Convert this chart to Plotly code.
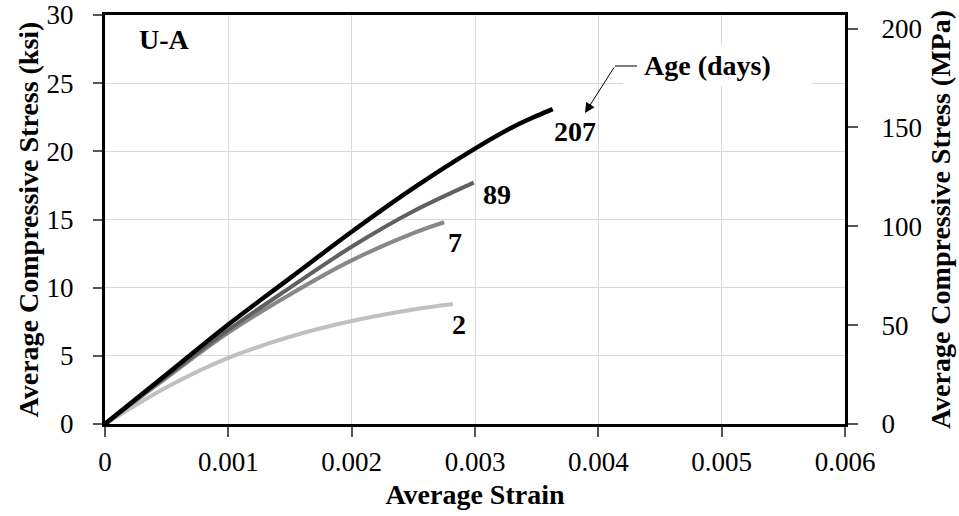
import plotly.graph_objects as go

# ---- data ----
strain_207 = [0, 0.0005, 0.001, 0.0015, 0.002, 0.0025, 0.003, 0.0033, 0.0035, 0.00363]
stress_207 = [0, 3.65, 7.3, 10.7, 14.1, 17.3, 20.2, 21.75, 22.6, 23.1]

strain_89 = [0, 0.0005, 0.001, 0.0015, 0.002, 0.0025, 0.00299]
stress_89 = [0, 3.5, 6.9, 10.0, 13.0, 15.6, 17.7]

strain_7 = [0, 0.0005, 0.001, 0.0015, 0.002, 0.0025, 0.00275]
stress_7 = [0, 3.4, 6.7, 9.5, 12.0, 14.0, 14.8]

strain_2 = [0, 0.0005, 0.001, 0.0015, 0.002, 0.0025, 0.00282]
stress_2 = [0, 2.7, 4.85, 6.4, 7.55, 8.4, 8.8]

ages = ["2", "7", "89", "207"]

x_ticks = [0, 0.001, 0.002, 0.003, 0.004, 0.005, 0.006]
x_ticklabels = ["0", "0.001", "0.002", "0.003", "0.004", "0.005", "0.006"]
y_ticks = [0, 5, 10, 15, 20, 25, 30]
y2_ticks = [0, 50, 100, 150, 200]

KSI_TO_MPA = 6.894757

FONT = "Liberation Serif"

fig = go.Figure()

series = [
    (strain_2, stress_2, "#c0c0c0", 4),
    (strain_7, stress_7, "#888888", 4),
    (strain_89, stress_89, "#606060", 4),
    (strain_207, stress_207, "#000000", 4.5),
]
for (sx, sy, col, w), age in zip(series, ages):
    fig.add_trace(go.Scatter(x=sx, y=sy, mode="lines", name=age,
                             line=dict(color=col, width=w, shape="spline", smoothing=1.0),
                             showlegend=False))

# invisible trace for the right (MPa) axis
fig.add_trace(go.Scatter(x=[0], y=[0], yaxis="y2", mode="markers",
                         marker=dict(opacity=0), showlegend=False, hoverinfo="skip"))

bold = dict(family=FONT, size=28, color="black")

# curve labels
fig.add_annotation(x=0.003811, y=21.42, text="<b>207</b>", showarrow=False, font=bold)
fig.add_annotation(x=0.003178, y=16.8, text="<b>89</b>", showarrow=False, font=bold)
fig.add_annotation(x=0.002838, y=13.35, text="<b>7</b>", showarrow=False, font=bold)
fig.add_annotation(x=0.00287, y=7.33, text="<b>2</b>", showarrow=False, font=bold)
fig.add_annotation(x=0.000486, y=28.17, text="<b>U-A</b>", showarrow=False, font=bold)

# white box behind "Age (days)" (covers grid lines)
fig.add_shape(type="rect", x0=0.00420, x1=0.005735, y0=24.8, y1=27.8,
              fillcolor="white", line=dict(width=0), layer="between")
fig.add_shape(type="line", x0=0.004135, x1=0.004314, y0=26.26, y1=26.26,
              line=dict(color="black", width=1), layer="above")
fig.add_annotation(x=0.004354, y=26.33, text="<b>Age (days)</b>", showarrow=False,
                   xanchor="left", font=bold)
fig.add_annotation(x=0.003892, y=22.81, ax=0.004135, ay=26.26, axref="x", ayref="y",
                   text="", showarrow=True, arrowhead=2, arrowsize=2,
                   arrowwidth=1, arrowcolor="black")

tickfont = dict(family=FONT, size=27, color="black")

fig.update_layout(
    width=959, height=516,
    margin=dict(l=105, r=114, t=15, b=92),
    paper_bgcolor="white", plot_bgcolor="white",
    xaxis=dict(range=[0, 0.006], tickvals=x_ticks, ticktext=x_ticklabels,
               showgrid=True, gridcolor="#d9d9d9", gridwidth=1,
               showline=True, linecolor="black", linewidth=3, mirror=True,
               ticks="outside", ticklen=10, tickwidth=1.5, tickcolor="#555555",
               tickfont=tickfont, zeroline=False, ticklabelstandoff=2, automargin=False,
               title=dict(text="<b>Average Strain</b>", font=bold, standoff=8)),
    yaxis=dict(range=[0, 30], tickvals=y_ticks,
               showgrid=True, gridcolor="#d9d9d9", gridwidth=1,
               showline=True, linecolor="black", linewidth=3, mirror=True,
               ticks="outside", ticklen=9, tickwidth=1.5, tickcolor="#555555",
               tickfont=tickfont, zeroline=False, ticklabelstandoff=14, automargin=False,
               title=dict(text="<b>Average Compressive Stress (ksi)</b>", font=bold, standoff=0)),
    yaxis2=dict(range=[0, 30 * KSI_TO_MPA], tickvals=y2_ticks, overlaying="y", side="right",
                showgrid=False, showline=True, linecolor="black", linewidth=3,
                ticks="outside", ticklen=10, tickwidth=1.5, tickcolor="#555555",
                tickfont=tickfont, zeroline=False, ticklabelstandoff=18, automargin=False,
                title=dict(text="<b>Average Compressive Stress (MPa)</b>", font=bold, standoff=10)),
)

fig.write_html("out.html", config={"displayModeBar": False},
               post_script="document.body.style.margin='0';")
